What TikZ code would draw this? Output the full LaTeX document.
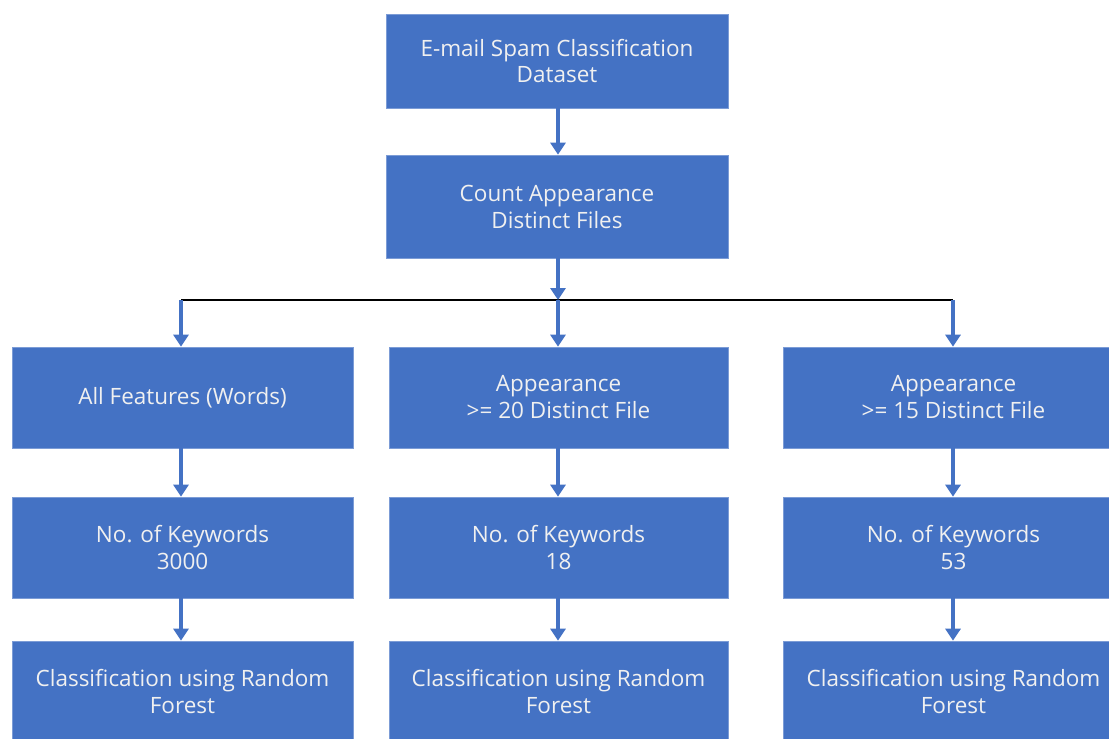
\documentclass[tikz,border=0pt]{standalone}
\usepackage{fontspec}
\setmainfont{Open Sans}
\usetikzlibrary{arrows.meta}
\definecolor{boxblue}{HTML}{4472C4}
\definecolor{txt}{HTML}{F0F0F0}
\tikzset{
  box/.style={fill=boxblue, draw=boxblue!70!white, line width=0.6pt, text=txt, align=center,
    minimum width=341pt, minimum height=101pt, inner sep=0pt,
    font=\fontsize{22.5}{27}\selectfont},
  arr/.style={draw=boxblue, line width=4pt, -{Triangle[width=15pt,length=12pt]}},
  bus/.style={draw=black, line width=2.8pt}
}
\begin{document}
\begin{tikzpicture}[x=1pt,y=-1pt]
\useasboundingbox (0,0) rectangle (1109,739);
\node[box, minimum width=342pt, minimum height=94pt] (ds) at (557,61) {E-mail Spam Classification\\Dataset};
\node[box, minimum width=342pt, minimum height=103pt] (cnt) at (557,206.5) {Count Appearance\\Distinct Files};
\coordinate (jl) at (181,300);
\coordinate (jm) at (558,300);
\coordinate (jr) at (953,300);
% row 1
\node[box] (a1) at (182.5,397.5) {All Features (Words)};
\node[box, minimum width=339pt] (b1) at (558.5,397.5) {Appearance\\>= 20 Distinct File};
\node[box] (c1) at (953.5,397.5) {Appearance\\>= 15 Distinct File};
% row 2
\node[box] (a2) at (182.5,547.5) {No. of Keywords\\3000};
\node[box, minimum width=339pt] (b2) at (558.5,547.5) {No. of Keywords\\18};
\node[box] (c2) at (953.5,547.5) {No. of Keywords\\53};
% row 3
\node[box] (a3) at (182.5,691.5) {Classification using Random\\Forest};
\node[box, minimum width=339pt] (b3) at (558.5,691.5) {Classification using Random\\Forest};
\node[box] (c3) at (953.5,691.5) {Classification using Random\\Forest};
% connectors
\draw[arr] (ds.south -| jm) -- (cnt.north -| jm);
\draw[bus] (jl) -- (jr);
\draw[arr] (cnt.south -| jm) -- (jm);
\draw[arr] (jl) -- (a1.north -| jl);
\draw[arr] (jm) -- (b1.north -| jm);
\draw[arr] (jr) -- (c1.north -| jr);
\draw[arr] (a1.south -| jl) -- (a2.north -| jl);
\draw[arr] (b1.south -| jm) -- (b2.north -| jm);
\draw[arr] (c1.south -| jr) -- (c2.north -| jr);
\draw[arr] (a2.south -| jl) -- (a3.north -| jl);
\draw[arr] (b2.south -| jm) -- (b3.north -| jm);
\draw[arr] (c2.south -| jr) -- (c3.north -| jr);
\end{tikzpicture}
\end{document}
